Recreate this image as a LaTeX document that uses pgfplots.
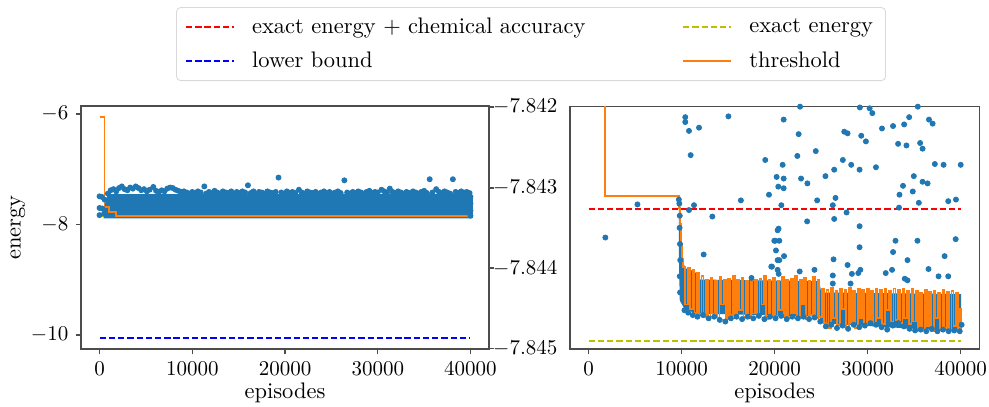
\documentclass[border=0pt]{standalone}
\usepackage{pgfplots}
\usepackage{pgfplotstable}
\pgfplotsset{compat=1.18}
\definecolor{tabblue}{HTML}{1F77B4}
\definecolor{taborange}{HTML}{FF7F0E}
\definecolor{mplolive}{rgb}{0.75,0.75,0}
\definecolor{mplred}{rgb}{1,0,0}
\definecolor{mplblue}{rgb}{0,0,1}

% threshold (step curve)
\pgfplotstableread{
x y
0 -6.05
540 -7.68
1000 -7.78
1800 -7.84311
9700 -7.84325
9800 -7.84345
9900 -7.84370
10000 -7.84388
10150 -7.84398
10350 -7.84445
10700 -7.84399
10900 -7.84450
11180 -7.84402
11380 -7.84455
11660 -7.84406
11860 -7.84458
12140 -7.84410
12340 -7.84460
12620 -7.84414
12820 -7.84462
13100 -7.84412
13300 -7.84456
13580 -7.84416
13780 -7.84461
14060 -7.84411
14260 -7.84445
14540 -7.84415
14740 -7.84463
15020 -7.84413
15220 -7.84458
15500 -7.84410
15700 -7.84462
15980 -7.84414
16180 -7.84452
16460 -7.84412
16660 -7.84460
16940 -7.84416
17140 -7.84462
17420 -7.84411
17620 -7.84456
17900 -7.84415
18100 -7.84461
18380 -7.84413
18580 -7.84445
18860 -7.84410
19060 -7.84463
19340 -7.84414
19540 -7.84458
19820 -7.84412
20020 -7.84462
20300 -7.84416
20500 -7.84452
20780 -7.84411
20980 -7.84460
21260 -7.84415
21460 -7.84462
21740 -7.84413
21940 -7.84456
22220 -7.84410
22420 -7.84461
22700 -7.84414
22900 -7.84445
23180 -7.84412
23380 -7.84463
23660 -7.84416
23860 -7.84458
24140 -7.84411
24340 -7.84462
24620 -7.84415
24820 -7.84460
25100 -7.84425
25300 -7.84468
25580 -7.84427
25780 -7.84474
26060 -7.84424
26260 -7.84462
26540 -7.84428
26740 -7.84470
27020 -7.84425
27220 -7.84450
27500 -7.84427
27700 -7.84473
27980 -7.84424
28180 -7.84468
28460 -7.84428
28660 -7.84474
28940 -7.84425
29140 -7.84462
29420 -7.84427
29620 -7.84470
29900 -7.84426
30100 -7.84464
30380 -7.84428
30580 -7.84468
30860 -7.84425
31060 -7.84462
31340 -7.84427
31540 -7.84469
31820 -7.84426
32020 -7.84452
32300 -7.84428
32500 -7.84466
32780 -7.84425
32980 -7.84464
33260 -7.84427
33460 -7.84468
33740 -7.84426
33940 -7.84462
34220 -7.84428
34420 -7.84469
34700 -7.84425
34900 -7.84466
35180 -7.84428
35380 -7.84474
35660 -7.84430
35860 -7.84477
36140 -7.84427
36340 -7.84472
36620 -7.84429
36820 -7.84478
37100 -7.84428
37300 -7.84462
37580 -7.84430
37780 -7.84476
38060 -7.84427
38260 -7.84474
38540 -7.84429
38740 -7.84477
39020 -7.84428
39220 -7.84472
39500 -7.84430
39700 -7.84478
39900 -7.84450
40000 -7.84479
}\thresh

% left panel: outline of the dense cloud
\pgfplotstableread{
x y
450 -7.89
420 -7.78
600 -7.62
800 -7.50
1000 -7.45
40000 -7.45
40270 -7.50
40270 -7.88
40000 -7.89
}\cloudleft

% left panel: points on the upper edge of the cloud and outliers
\pgfplotstableread{
x y
0 -7.49
250 -7.50
0 -7.70
300 -7.71
550 -7.55
0 -7.83
500 -7.80
900 -7.44
1200 -7.38
1500 -7.36
1800 -7.40
2100 -7.34
2400 -7.31
2700 -7.36
3000 -7.38
3300 -7.33
3600 -7.35
3900 -7.31
4200 -7.34
4500 -7.38
4800 -7.36
5100 -7.40
5400 -7.37
5800 -7.32
6100 -7.39
6400 -7.41
6700 -7.38
7000 -7.40
7300 -7.35
7600 -7.33
7900 -7.34
8200 -7.37
8500 -7.39
8800 -7.41
9100 -7.40
9400 -7.42
9700 -7.44
10000 -7.41
10300 -7.43
10600 -7.40
10900 -7.42
11300 -7.31
11500 -7.44
11800 -7.41
12100 -7.43
12400 -7.39
12700 -7.42
13000 -7.44
13300 -7.40
13600 -7.42
13900 -7.43
14200 -7.40
14500 -7.44
14800 -7.41
15100 -7.43
15400 -7.40
15700 -7.42
16000 -7.29
16300 -7.43
16600 -7.40
16900 -7.44
17200 -7.41
17500 -7.42
17800 -7.44
18100 -7.40
18400 -7.42
18700 -7.43
19000 -7.41
19300 -7.15
19600 -7.42
19900 -7.44
20200 -7.40
20500 -7.43
20800 -7.41
21100 -7.43
21500 -7.37
21800 -7.42
22100 -7.44
22400 -7.40
22700 -7.42
23000 -7.43
23300 -7.41
23600 -7.44
23900 -7.42
24200 -7.40
24500 -7.43
24800 -7.41
25100 -7.44
25400 -7.42
25700 -7.40
26000 -7.43
26400 -7.20
26700 -7.42
27000 -7.44
27300 -7.41
27600 -7.43
27900 -7.40
28200 -7.42
28500 -7.44
28800 -7.41
29100 -7.39
29400 -7.43
29700 -7.41
30000 -7.42
30400 -7.37
30700 -7.40
31000 -7.42
31300 -7.35
31600 -7.41
31900 -7.43
32200 -7.40
32500 -7.42
32800 -7.44
33100 -7.41
33400 -7.43
33800 -7.40
34100 -7.42
34400 -7.44
34700 -7.41
35000 -7.39
35300 -7.43
35600 -7.18
35900 -7.42
36300 -7.36
36600 -7.41
36900 -7.43
37200 -7.40
37500 -7.42
37800 -7.44
38100 -7.18
38400 -7.41
38700 -7.43
39000 -7.40
39300 -7.42
39600 -7.41
39900 -7.43
40000 -7.50
40000 -7.62
40000 -7.75
40000 -7.84
}\pointsleft

% right panel: outline of the dense band
\pgfplotstableread{
x y
9700 -7.84312
9850 -7.84318
9950 -7.84360
10150 -7.84392
10400 -7.84400
11400 -7.84404
12000 -7.84414
24800 -7.84416
25000 -7.84430
40050 -7.84432
40050 -7.84470
39900 -7.84477
35000 -7.84475
25000 -7.84468
24800 -7.84460
11500 -7.84456
10300 -7.84450
9800 -7.84440
9700 -7.84380
}\bandright

\pgfplotstableread{
x y
10300 -7.84452
10700 -7.84455
11200 -7.84458
11700 -7.84460
12300 -7.84458
12900 -7.84462
13500 -7.84460
14100 -7.84464
14700 -7.84466
15300 -7.84462
15900 -7.84460
16500 -7.84463
17100 -7.84460
17700 -7.84462
18300 -7.84459
18900 -7.84463
19500 -7.84460
20100 -7.84462
20700 -7.84459
21300 -7.84463
21900 -7.84460
22500 -7.84462
23100 -7.84460
23700 -7.84463
24300 -7.84461
24900 -7.84466
25500 -7.84472
26100 -7.84470
26700 -7.84474
27300 -7.84471
27900 -7.84475
28500 -7.84470
29100 -7.84473
29700 -7.84471
30300 -7.84468
30900 -7.84470
31500 -7.84473
32100 -7.84476
32700 -7.84471
33300 -7.84468
33900 -7.84472
34500 -7.84475
35100 -7.84477
35700 -7.84476
36300 -7.84478
36900 -7.84475
37500 -7.84478
38100 -7.84476
38700 -7.84478
39300 -7.84477
39900 -7.84478
40100 -7.84470
9700 -7.84315
9750 -7.84320
9800 -7.84335
9780 -7.84350
9820 -7.84370
9850 -7.84390
9800 -7.84410
9830 -7.84430
10390 -7.84213
10390 -7.84219
10790 -7.84230
11870 -7.84226
15030 -7.84212
10970 -7.84260
18990 -7.84266
20210 -7.84287
20390 -7.84299
19390 -7.84309
16370 -7.84316
5250 -7.84321
11330 -7.84322
10790 -7.84328
13300 -7.84336
22730 -7.84200
20970 -7.84216
22580 -7.84234
22440 -7.84261
24420 -7.84255
20860 -7.84272
20970 -7.84289
20970 -7.84301
20720 -7.84322
22840 -7.84289
23520 -7.84295
24570 -7.84316
25460 -7.84286
26400 -7.84278
26540 -7.84313
27330 -7.84266
27480 -7.84231
27840 -7.84233
28230 -7.84272
29130 -7.84278
29310 -7.84236
29810 -7.84243
29160 -7.84201
30210 -7.84202
30500 -7.84208
30890 -7.84275
31540 -7.84227
32730 -7.84224
33920 -7.84222
34460 -7.84213
33270 -7.84246
34170 -7.84248
35640 -7.84245
35900 -7.84252
36590 -7.84216
36980 -7.84221
37220 -7.84271
38160 -7.84272
40000 -7.84272
34960 -7.84286
35900 -7.84293
36440 -7.84295
33800 -7.84298
34850 -7.84305
33420 -7.84309
35500 -7.84319
38660 -7.84317
39490 -7.84315
33370 -7.84325
27730 -7.84331
23490 -7.84342
26400 -7.84339
29130 -7.84348
20420 -7.84351
35390 -7.84200
26250 -7.84322
1800 -7.84362
12370 -7.84383
17510 -7.84412
19640 -7.84398
20320 -7.84390
20320 -7.84402
19960 -7.84366
20140 -7.84378
20320 -7.84353
20070 -7.84366
20500 -7.84366
21010 -7.84385
20500 -7.84390
19710 -7.84398
20430 -7.84407
22690 -7.84404
24280 -7.84402
26330 -7.84389
26250 -7.84409
26250 -7.84419
27840 -7.84396
28160 -7.84419
28300 -7.84407
28990 -7.84406
29210 -7.84402
29130 -7.84374
31940 -7.84406
32620 -7.84402
32730 -7.84380
32990 -7.84366
34280 -7.84390
33990 -7.84413
34280 -7.84415
35350 -7.84366
36540 -7.84401
37620 -7.84410
38270 -7.84385
38660 -7.84410
39460 -7.84364
}\pointsright

\pgfplotsset{
  panel/.style={
    scale only axis, width=194.3pt, height=115.7pt,
    xmin=-2000, xmax=42000,
    xtick={0,10000,20000,30000,40000},
    scaled x ticks=false, scaled y ticks=false,
    xticklabel style={/pgf/number format/1000 sep={}},
    tick align=outside, tick pos=left,
    major tick length=2.5pt,
    axis line style={black!70, line width=0.6pt},
    tick style={black!70, line width=0.6pt},
    label style={font=\fontsize{10.7pt}{12pt}\selectfont},
    xlabel={episodes},
    xlabel style={at={(axis description cs:0.5,-0.205)}, anchor=base},
    clip=true,
  },
  cloud/.style={only marks, mark=*, mark size=1.2pt, draw=tabblue, fill=tabblue},
  thr/.style={taborange, line width=0.85pt, const plot, mark=none},
  ref/.style={line width=1pt, dash pattern=on 3pt off 1.4pt, mark=none},
}

\begin{document}
\begin{tikzpicture}
\useasboundingbox (0,0) rectangle (470.95pt,193.33pt);

\begin{axis}[panel,
  at={(38.57pt,27.14pt)}, anchor=south west,
  ymin=-10.253, ymax=-5.855,
  ytick={-10,-8,-6},
  ylabel={energy},
  ylabel style={at={(axis description cs:-0.148,0.5)}, anchor=base},
  extra y ticks={-5.873,-7.339,-8.787,-10.25},
  extra y tick labels={},
  extra y tick style={ytick pos=right},
  legend columns=2,
  legend cell align=left,
  legend image code/.code={\draw[#1] (0pt,0pt) -- (23pt,0pt);},
  legend style={at={(axis description cs:1.103,1.255)}, anchor=center,
    font=\fontsize{10.7pt}{12pt}\selectfont,
    draw=black!15, rounded corners=2pt, inner xsep=4pt, inner ysep=3pt,
    row sep=3pt,
    /tikz/every odd column/.append style={column sep=6pt},
    /tikz/every even column/.append style={column sep=44pt}},
]
\addplot[ref, mplred] coordinates {(0,-7.84327) (40000,-7.84327)};
\addlegendentry{exact energy + chemical accuracy}
\addplot[ref, mplolive] coordinates {(0,-7.8449) (40000,-7.8449)};
\addlegendentry{exact energy}
\addplot[ref, mplblue] coordinates {(0,-10.049) (40000,-10.049)};
\addlegendentry{lower bound}
\addplot[fill=tabblue, draw=none, forget plot] table {\cloudleft};
\addplot[cloud, forget plot] table {\pointsleft};
\addplot[thr] table {\thresh};
\addlegendentry{threshold}
\end{axis}

\begin{axis}[panel,
  at={(271.43pt,27.14pt)}, anchor=south west,
  width=194.9pt, height=115.4pt,
  ymin=-7.845, ymax=-7.842,
  ytick={-7.845,-7.844,-7.843,-7.842},
  yticklabel style={/pgf/number format/.cd, fixed, fixed zerofill, precision=3},
  ytick style={draw=none},
]
\addplot[ref, mplred] coordinates {(0,-7.84327) (40000,-7.84327)};
\addplot[ref, mplolive] coordinates {(0,-7.8449) (40000,-7.8449)};
\addplot[fill=tabblue, draw=none] table {\bandright};
\addplot[cloud] table {\pointsright};
\addplot[thr, restrict y to domain*=-7.846:-7.8415] table {\thresh};
\end{axis}
\end{tikzpicture}
\end{document}
